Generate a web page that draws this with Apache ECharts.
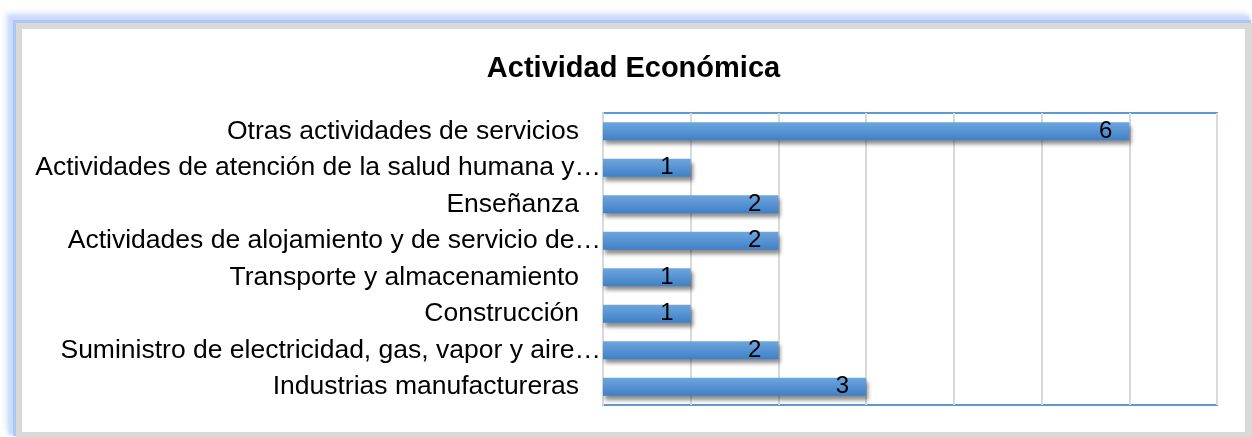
<!DOCTYPE html>
<html>
<head>
<meta charset="utf-8">
<script src="https://cdn.jsdelivr.net/npm/echarts@6/dist/echarts.min.js"></script>
<style>
  html, body { margin: 0; padding: 0; background: #fff; overflow: hidden; }
  .frame {
    position: absolute; left: 16px; top: 23px; width: 1236px; height: 414px;
    box-sizing: border-box; border: 6px solid #d9d9d9; border-right-width: 7px; border-bottom-width: 5px;
    box-shadow: -2px -2px 0 1px #a9c7f7, -5px -5px 3px 3px #c9dbf9, -9px -9px 5px 3px #eaf1fd;
    background: #fff;
  }
  #chart { width: 100%; height: 100%; }
</style>
</head>
<body>
<div class="frame"><div id="chart"></div></div>
<script>
// categorias de abajo hacia arriba (eje Y de categorias)
var categories = [
  'Industrias manufactureras',
  'Suministro de electricidad, gas, vapor y aire…',
  'Construcción',
  'Transporte y almacenamiento',
  'Actividades de alojamiento y de servicio de…',
  'Enseñanza',
  'Actividades de atención de la salud humana y…',
  'Otras actividades de servicios'
]
var values = [3, 2, 1, 1, 2, 2, 1, 6]
var axisMax = 7

var chart = echarts.init(document.getElementById('chart'))
chart.setOption({
  animation: false,
  title: {
    text: 'Actividad Económica',
    left: 'center',
    top: 20,
    textStyle: { fontFamily: 'Liberation Sans, Arial', fontSize: 29, fontWeight: 'bold', color: '#000' }
  },
  grid: {
    left: 581,
    right: 28,
    top: 84,
    bottom: 27,
    show: true,
    borderColor: '#5b9bd5',
    borderWidth: 2,
    backgroundColor: 'transparent'
  },
  xAxis: {
    type: 'value',
    min: 0,
    max: axisMax,
    interval: 1,
    axisLabel: { show: false },
    axisLine: { show: false },
    axisTick: { show: false },
    splitLine: { lineStyle: { color: '#d9d9d9', width: 2 } }
  },
  yAxis: {
    type: 'category',
    data: categories,
    axisTick: { show: false },
    axisLine: { lineStyle: { color: '#d9d9d9', width: 2 } },
    axisLabel: {
      margin: 2,
      formatter: function (v) {
        return v.indexOf('…') >= 0 ? '{e|' + v + '}' : '{n|' + v + '}'
      },
      rich: {
        n: { fontFamily: 'Liberation Sans, Arial', fontSize: 26.5, color: '#000', padding: [0, 22, 0, 0] },
        e: { fontFamily: 'Liberation Sans, Arial', fontSize: 26.5, color: '#000' }
      }
    }
  },
  series: [{
    type: 'bar',
    data: values,
    barWidth: 18,
    itemStyle: {
      color: new echarts.graphic.LinearGradient(0, 0, 0, 1, [
        { offset: 0, color: '#6ea6de' },
        { offset: 1, color: '#3f80c6' }
      ]),
      shadowColor: 'rgba(0,0,0,0.45)',
      shadowBlur: 4,
      shadowOffsetX: 2,
      shadowOffsetY: 4
    },
    label: {
      show: true,
      position: 'insideRight',
      distance: 17,
      color: '#000',
      fontFamily: 'Liberation Sans, Arial',
      fontSize: 24
    }
  }]
})
</script>
</body>
</html>
